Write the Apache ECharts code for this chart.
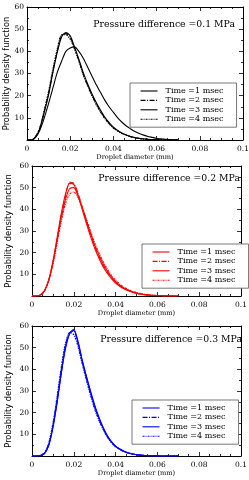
<!DOCTYPE html>
<html><head><meta charset="utf-8">
<script src="https://cdn.jsdelivr.net/npm/echarts@6/dist/echarts.min.js"></script>
<style>html,body{margin:0;padding:0;background:#fff}#c{width:249px;height:480px}</style>
</head><body><div id="c"></div>
<script>
// ---- data ----
const diameter = [0,0.002,0.004,0.006,0.008,0.010,0.012,0.014,0.016,0.018,0.020,0.022,0.024,0.026,0.028,0.030,0.032,0.034,0.036,0.038,0.040,0.042,0.044,0.046,0.048,0.050,0.052,0.054,0.056,0.058,0.060,0.062,0.064,0.066,0.068,0.070];
const timeLabels = ['Time =1 msec','Time =2 msec','Time =3 msec','Time =4 msec'];
const panelTitles = ['Pressure difference =0.1 MPa','Pressure difference =0.2 MPa','Pressure difference =0.3 MPa'];
const xTickLabels = ['0','0.02','0.04','0.06','0.08','0.1'];
const yTickLabels = ['','10','20','30','40','50','60'];

// 0.1 MPa
const p1_t1 = [0,0,1.2,4.5,10,16.5,23.5,30.5,35.5,40,41.5,42,40,37,33,29,25,21.5,18,15,12.5,10,8,6.3,5,3.8,2.9,2.2,1.6,1.2,0.8,0.5,0.35,0.2,0.1,0];
const p1_t2 = [0,0,1.5,5.5,13,21,31,40,47,48,46.5,41.5,36,30,25,20.5,16.5,13,10,7.5,5.5,4.2,3,2.2,1.5,1,0.7,0.45,0.3,0.2,0.1,0.05,0,0,0,0];
const p1_t3 = [0,0,1.4,5.2,12.5,20.5,30.5,39.5,46.5,48.5,47,42,36.5,30.5,25.5,21,17,13.5,10.3,7.8,5.8,4.3,3.1,2.3,1.6,1.1,0.75,0.5,0.3,0.2,0.1,0.05,0,0,0,0];
const p1_t4 = [0,0,1.6,5.8,13.5,22,32,41,47.5,47.5,45.5,41,35.5,29.5,24.5,20,16,12.6,9.7,7.3,5.4,4,2.9,2.1,1.5,1,0.65,0.4,0.25,0.15,0.1,0.05,0,0,0,0];
// 0.2 MPa
const p2_t1 = [0,0,0.5,2.5,7.5,16,27,38,47,52,51.5,46.5,40,33.5,27.5,22,17.5,13.5,10.5,8,6,4.5,3.3,2.4,1.7,1.2,0.8,0.55,0.4,0.25,0.15,0.1,0.05,0.02,0,0];
const p2_t2 = [0,0,0.5,2.4,7.3,15.5,26,37,46,52.5,52,47.5,41,34.5,28.5,23,18.3,14.3,11,8.4,6.3,4.7,3.5,2.6,1.9,1.3,0.9,0.6,0.4,0.25,0.15,0.1,0.05,0.03,0.01,0];
const p2_t3 = [0,0,0.5,2.4,7.2,15,25.5,36,44.5,49.5,50,46.5,41,35,29,23.5,19,15,11.6,8.8,6.7,5,3.7,2.7,2,1.4,1,0.65,0.45,0.3,0.2,0.1,0.06,0.03,0.01,0];
const p2_t4 = [0,0,0.5,2.3,7,14.5,24.5,34.5,42.5,47,48,45.5,41,35.5,30,24.5,20,16,12.5,9.5,7.3,5.5,4.1,3,2.2,1.6,1.1,0.75,0.5,0.35,0.25,0.15,0.08,0.04,0.02,0];
// 0.3 MPa
const p3_t1 = [0,0,0.2,1.2,5,13.5,25,38.5,50,56.5,58,52.5,44,36.5,29.5,23,17.5,13,9.3,6.5,4.5,3.2,2.2,1.4,0.9,0.6,0.4,0.25,0.15,0.1,0.05,0.03,0.01,0,0,0];
const p3_t2 = [0,0,0.2,1.3,5.3,14,26,39.5,51,57,57.5,52,43.5,36,29,22.5,17,12.7,9,6.3,4.4,3.1,2.1,1.4,0.9,0.6,0.4,0.25,0.15,0.1,0.05,0.03,0.01,0,0,0];
const p3_t3 = [0,0,0.2,1.1,4.8,13,24.5,38,49.5,56.5,58.5,53,44.5,37,30,23.5,18,13.3,9.5,6.7,4.6,3.2,2.2,1.5,1,0.6,0.4,0.25,0.15,0.1,0.05,0.03,0.01,0,0,0];
const p3_t4 = [0,0,0.3,1.6,6,15,27.5,41,52,57,56,50.5,42.5,35,28,21.5,16.5,12.3,8.8,6.1,4.2,3,2,1.3,0.85,0.55,0.35,0.2,0.12,0.08,0.04,0.02,0.01,0,0,0];

const panelSeries = [[p1_t1,p1_t2,p1_t3,p1_t4],[p2_t1,p2_t2,p2_t3,p2_t4],[p3_t1,p3_t2,p3_t3,p3_t4]];
const panelColors = ['#000000','#ff0000','#0000ff'];

// ---- layout / style ----
const grids = [
  {left:27, top:7, width:216, height:133},
  {left:32, top:166, width:209, height:130},
  {left:32, top:326, width:209, height:130}
];
const legendPos = [
  {left:130, top:83},
  {left:142, top:244},
  {left:132, top:400}
];
const titlePos = [
  {right:14, top:20},
  {right:9, top:174},
  {right:7, top:335}
];
const dashes = ['solid',[5,1.5,1,1.5],'solid',[2,1,1,1]];
const serif = 'DejaVu Serif';

const option = {animation:false, grid:[], xAxis:[], yAxis:[], series:[], legend:[], title:[]};
grids.forEach((g,p)=>{
  option.grid.push(Object.assign({containLabel:false, outerBoundsMode:'none'}, g));
  const tickCommon = {show:true, inside:true, length:4, lineStyle:{color:'#000',width:0.8}};
  const minorCommon = {show:true, length:2, lineStyle:{color:'#000',width:0.8}};
  // bottom x
  option.xAxis.push({gridIndex:p, type:'value', position:'bottom', min:0, max:0.1, interval:0.02,
    axisLine:{show:true,onZero:false,lineStyle:{color:'#000',width:1}},
    axisTick:tickCommon, minorTick:Object.assign({splitNumber:4},minorCommon), splitLine:{show:false},
    axisLabel:{margin:5, color:'#000', fontFamily:serif, fontSize:7.5,
      formatter:(v)=>xTickLabels[Math.round(v/0.02)]},
    name:'Droplet diameter (mm)', nameLocation:'middle', nameGap:14,
    nameTextStyle:{fontFamily:serif, fontSize:6.6, color:'#000'}});
  // top x
  option.xAxis.push({gridIndex:p, type:'value', position:'top', min:0, max:0.1, interval:0.02,
    axisLine:{show:true,onZero:false,lineStyle:{color:'#000',width:1}},
    axisTick:tickCommon, minorTick:Object.assign({splitNumber:4},minorCommon), splitLine:{show:false},
    axisLabel:{show:false}});
  // left y
  option.yAxis.push({gridIndex:p, type:'value', position:'left', min:0, max:60, interval:10,
    axisLine:{show:true,onZero:false,lineStyle:{color:'#000',width:1}},
    axisTick:tickCommon, minorTick:Object.assign({splitNumber:2},minorCommon), splitLine:{show:false},
    axisLabel:{margin:3, color:'#000', fontFamily:serif, fontSize:7.5,
      formatter:(v)=>yTickLabels[Math.round(v/10)]},
    name:'Probability density function', nameLocation:'middle', nameGap:p===0?16:19,
    nameMoveOverlap:false,
    nameTextStyle:{fontFamily:'DejaVu Sans', fontSize:8.3, color:'#000'}});
  // right y
  option.yAxis.push({gridIndex:p, type:'value', position:'right', min:0, max:60, interval:10,
    axisLine:{show:true,onZero:false,lineStyle:{color:'#000',width:1}},
    axisTick:tickCommon, minorTick:Object.assign({splitNumber:2},minorCommon), splitLine:{show:false},
    axisLabel:{show:false}});

  const names = [];
  panelSeries[p].forEach((vals,i)=>{
    const nm = 'p' + p + '_' + i;
    names.push(nm);
    option.series.push({type:'line', name:nm, xAxisIndex:2*p, yAxisIndex:2*p,
      data:diameter.map((d,k)=>[d, vals[k]]), symbol:'none', smooth:0.25,
      lineStyle:{color:panelColors[p], width:1.1, type:dashes[i]}, itemStyle:{color:panelColors[p]}, z:5-i});
  });

  option.legend.push(Object.assign({orient:'vertical', padding:[4,13,4,10], itemGap:1.4, itemWidth:17, itemHeight:8,
    borderColor:'#555', borderWidth:0.8, backgroundColor:'#fff', selectedMode:false,
    textStyle:{fontFamily:serif, fontSize:8, color:'#000', lineHeight:8, padding:[0,0,0,3]},
    formatter:(n)=>timeLabels[Number(n.split('_')[1])],
    data:names.map((n,i)=>({name:n, itemStyle:{color:panelColors[p], opacity:0},
      lineStyle:{color:panelColors[p], width:1.1, type:dashes[i], opacity:1}}))}, legendPos[p]));

  option.title.push(Object.assign({text:panelTitles[p], padding:0,
    textStyle:{fontFamily:serif, fontSize:9.3, fontWeight:'normal', color:'#000'}}, titlePos[p]));
});

const chart = echarts.init(document.getElementById('c'), null, {renderer:'canvas'});
chart.setOption(option);
</script></body></html>
